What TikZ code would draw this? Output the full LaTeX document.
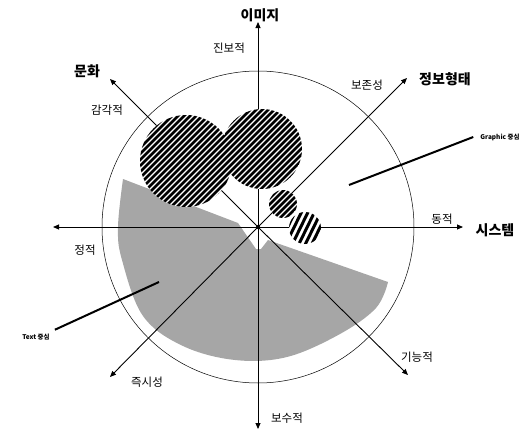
\documentclass[tikz,border=0pt]{standalone}
\usepackage{fontspec}
\setmainfont{Noto Sans CJK KR}
\usepackage{tikz}
\usetikzlibrary{arrows.meta,calc}
\definecolor{stipple}{gray}{0.65}
\definecolor{ink}{gray}{0}

\begin{document}
\begin{tikzpicture}[x=1pt,y=-1pt,
  axis/.style={-{Triangle[length=6pt,width=5pt]},line width=0.9pt,ink},
  major/.style={font=\bfseries\fontsize{14}{14}\selectfont,text=ink,inner sep=1pt},
  minor/.style={font=\fontsize{11.5}{12}\selectfont,text=ink,inner sep=1pt},
  note/.style={font=\bfseries\fontsize{6.5}{7}\selectfont,text=ink,inner sep=0pt},
  pointer/.style={line width=2pt,ink},
  stripe/.style={line width=2.5pt,ink}]
\useasboundingbox (0,0) rectangle (531,431);
\coordinate (o) at (258,227);
\coordinate (n) at (258,22);
\coordinate (s) at (258,429);
\coordinate (w) at (53,227);
\coordinate (e) at (463,227);
\coordinate (nw) at (110,79);
\coordinate (ne) at (407,78);
\coordinate (sw) at (110,377);
\coordinate (se) at (408,375);
\fill[stipple] (238,223) -- plot[smooth,tension=0.6] coordinates {(123,179) (118,227) (122,260) (143,316) (183,346) (235,360) (287,357) (340,334) (376,308) (388,282)} -- (268,240) -- (261,249) -- (256,249) -- cycle;
\draw[line width=0.5pt] (o) circle (156);
\foreach \tip in {n,s,w,e,nw,ne,sw,se}
  \draw[axis] (o) -- (\tip);
\fill (o) circle (2);
\begin{scope}
\clip (186,161) circle (46) (262,149) circle (40) (283,204) circle (14);
\fill[white] (130,100) rectangle (310,225);
\foreach \k in {0,...,60}
  \draw[stripe] (6*\k,240) -- ++(150,-150);
\end{scope}
\begin{scope}
\clip (305,228) circle (16);
\fill[white] (288,211) rectangle (322,245);
\foreach \k in {0,...,12}
  \draw[stripe,line width=3pt] (270+6.5*\k,250) -- ++(22,-45);
\end{scope}
\node[major] (image) at (260,15) {이미지};
\node[minor] (progress) at (229,48) {진보적};
\node[major] (culture) at (87,71) {문화};
\node[minor] (sense) at (107,110) {감각적};
\node[minor] (keep) at (367,85) {보존성};
\node[major] (form) at (445,79) {정보형태};
\node[note] (graphic) at (500,137) {Graphic 중심};
\node[minor] (dynamic) at (442,219) {동적};
\node[major] (system) at (495,230) {시스템};
\node[minor] (static) at (85,250) {정적};
\node[note] (text) at (36,337) {Text 중심};
\node[minor] (instant) at (147,382) {즉시성};
\node[minor] (function) at (417,357) {기능적};
\node[minor] (conserve) at (287,418) {보수적};
\coordinate (gfoot) at (349,185);
\coordinate (tfoot) at (159,282);
\draw[pointer] (gfoot) -- ($(graphic.west)+(-7,0)$);
\draw[pointer] ($(text.north east)+(5,-4)$) -- (tfoot);
\end{tikzpicture}
\end{document}
